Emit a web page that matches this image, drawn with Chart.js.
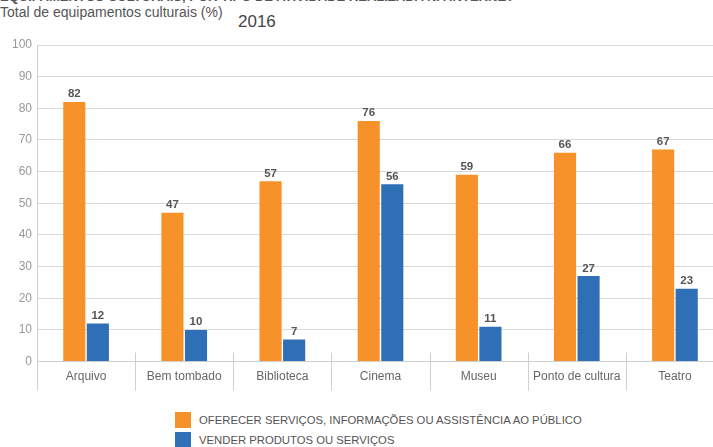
<!DOCTYPE html>
<html>
<head>
<meta charset="utf-8">
<script src="https://cdn.jsdelivr.net/npm/chart.js@4"></script>
<style>
  html, body { margin: 0; padding: 0; background: #fff; overflow: hidden; width: 713px; height: 447px; }
  body { position: relative; font-family: "Liberation Sans", Arial, sans-serif; }
  #sup { position: absolute; left: 0; top: -11px; font-size: 13px; font-weight: bold; color: #555; white-space: nowrap; }
  #sub { position: absolute; left: 0; top: 4px; font-size: 14px; color: #555; }
  #year { position: absolute; left: 238px; top: 12px; font-size: 17px; color: #444; }
  #wrap { position: absolute; left: 0; top: 27px; width: 724px; height: 370px; }
  #legend { position: absolute; left: 175px; top: 410px; font-size: 11.3px; color: #555; }
  #legend div { height: 20px; display: flex; align-items: center; }
  #legend span.box { width: 16px; height: 16px; margin-right: 8px; display: inline-block; }
</style>
</head>
<body>
<div id="sup">EQUIPAMENTOS CULTURAIS, POR TIPO DE ATIVIDADE REALIZADA NA INTERNET</div>
<div id="sub">Total de equipamentos culturais (%)</div>
<div id="year">2016</div>
<div id="wrap"><canvas id="c" width="724" height="370"></canvas></div>
<div id="legend"></div>
<script>
const categories = ['Arquivo', 'Bem tombado', 'Biblioteca', 'Cinema', 'Museu', 'Ponto de cultura', 'Teatro'];
const oferecer = [82, 47, 57, 76, 59, 66, 67];
const vender = [12, 10, 7, 56, 11, 27, 23];
const seriesNames = ['OFERECER SERVIÇOS, INFORMAÇÕES OU ASSISTÊNCIA AO PÚBLICO', 'VENDER PRODUTOS OU SERVIÇOS'];
const colors = ['#F7922B', '#2E6FB5'];

// value labels above each bar
const barLabels = {
  id: 'barLabels',
  afterDatasetsDraw(chart) {
    const ctx = chart.ctx;
    ctx.save();
    ctx.font = 'bold 11.5px "Liberation Sans", Arial, sans-serif';
    ctx.fillStyle = '#555';
    ctx.textAlign = 'center';
    ctx.textBaseline = 'bottom';
    chart.data.datasets.forEach((ds, i) => {
      chart.getDatasetMeta(i).data.forEach((bar, j) => {
        ctx.fillText(ds.data[j], bar.x, bar.y - 2);
      });
    });
    ctx.restore();
  }
};

// category separators below the axis
const separators = {
  id: 'separators',
  afterDraw(chart) {
    const x = chart.scales.x, y = chart.scales.y;
    const y0 = y.getPixelForValue(0);
    const ctx = chart.ctx;
    ctx.save();
    ctx.strokeStyle = '#cfcfcf';
    ctx.lineWidth = 1;
    for (let i = 0; i <= categories.length; i++) {
      let px;
      if (i === 0) px = chart.chartArea.left;
      else if (i === categories.length) px = chart.chartArea.right;
      else px = (x.getPixelForTick(i - 1) + x.getPixelForTick(i)) / 2;
      px = Math.round(px) + 0.5;
      ctx.beginPath();
      ctx.moveTo(px, i === 0 ? y0 : y0 - 9);
      ctx.lineTo(px, y0 + 29);
      ctx.stroke();
    }
    ctx.restore();
  }
};

const chart = new Chart(document.getElementById('c'), {
  type: 'bar',
  data: {
    labels: categories,
    datasets: [
      { label: seriesNames[0], data: oferecer, backgroundColor: colors[0] },
      { label: seriesNames[1], data: vender, backgroundColor: colors[1] }
    ]
  },
  options: {
    responsive: false,
    animation: false,
    layout: { padding: { top: 18, right: 0, bottom: 13, left: 0 } },
    plugins: { legend: { display: false }, tooltip: { enabled: false } },
    datasets: { bar: { barPercentage: 0.94, categoryPercentage: 0.48 } },
    scales: {
      x: {
        grid: { display: false },
        border: { color: '#cfcfcf' },
        ticks: { color: '#666', font: { size: 12, family: '"Liberation Sans", Arial, sans-serif' }, padding: 0 }
      },
      y: {
        min: 0, max: 100,
        afterFit(s) { s.width = 37; },
        grid: { color: '#d9d9d9', drawTicks: false },
        border: { color: '#cfcfcf' },
        ticks: { stepSize: 10, color: '#999', padding: 5, font: { size: 12, family: '"Liberation Sans", Arial, sans-serif' } }
      }
    }
  },
  plugins: [barLabels, separators]
});

// legend in two rows, from the chart's datasets
const legend = document.getElementById('legend');
chart.data.datasets.forEach(ds => {
  const row = document.createElement('div');
  row.innerHTML = '<span class="box" style="background:' + ds.backgroundColor + '"></span>' + ds.label;
  legend.appendChild(row);
});
</script>
</body>
</html>
